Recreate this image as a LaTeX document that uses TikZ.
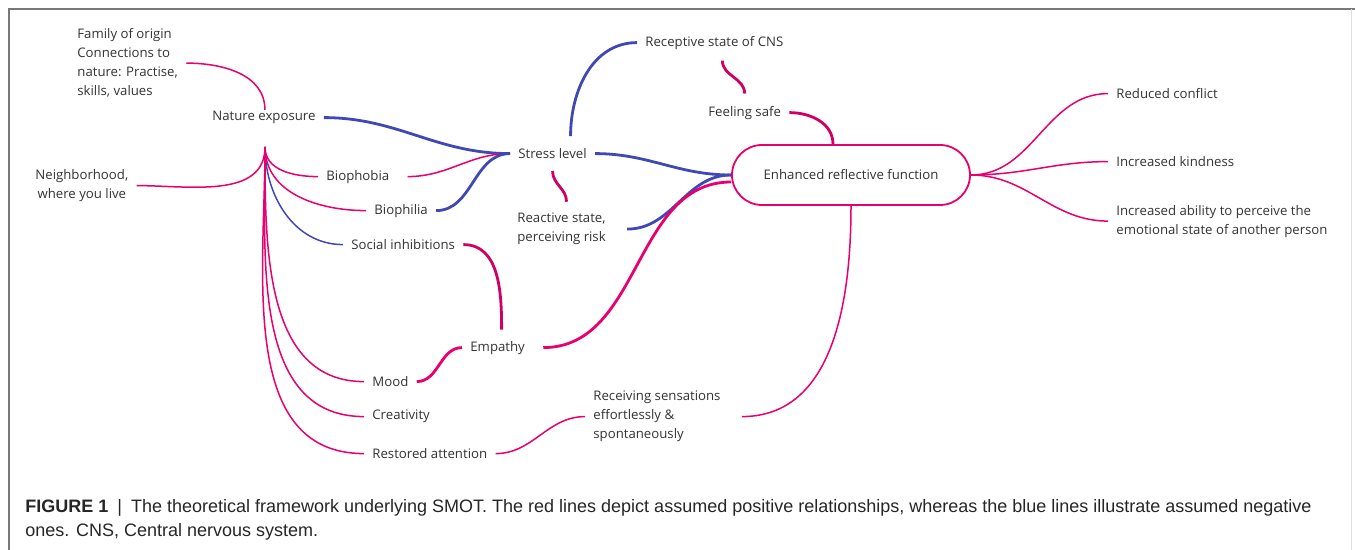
\documentclass[tikz,border=0pt]{standalone}
\usepackage{fontspec}
\setmainfont{Open Sans}
\newfontfamily\capfont{Liberation Sans}
\usetikzlibrary{calc}

\definecolor{posred}{RGB}{232,0,110}
\definecolor{posdark}{RGB}{208,0,98}
\definecolor{negblue}{RGB}{63,72,180}
\definecolor{frame}{RGB}{120,120,120}

\tikzset{
  lbl/.style={font=\fontsize{6.6}{9.5}\selectfont, text=black!80, inner xsep=4pt, inner ysep=2pt, anchor=west, yshift=-0.8pt},
  posline/.style={posred, line width=0.75pt},
  posthick/.style={posred, line width=1.4pt},
  posdk/.style={posdark, line width=1.4pt},
  negline/.style={negblue, line width=0.75pt},
  negthick/.style={negblue, line width=1.4pt},
  pill/.style={draw=posred, line width=0.9pt, rounded corners=15pt, minimum width=119pt, minimum height=30pt, font=\fontsize{6.6}{9.5}\selectfont, text=black!80}
}

\begin{document}
\begin{tikzpicture}[x=0.5pt,y=-0.5pt]
\useasboundingbox (0,0) rectangle (1355,550);
% Frame
\draw[frame,line width=0.6pt] (9,550)--(9,9)--(1355,9);
\draw[black!12,line width=0.5pt] (1351,9)--(1351,550);
% Nodes (left side)
\node[lbl,align=left] (fam) at (69,61.5) {Family of origin\\Connections to\\nature: Practise,\\skills, values};
\node[lbl] (nat) at (204,116) {Nature exposure};
\coordinate (hub) at (265,147);
\node[lbl,align=center] (nbh) at (27,184) {Neighborhood,\\where you live};
\node[lbl] (bphob) at (318,175) {Biophobia};
\node[lbl] (bphil) at (366,209) {Biophilia};
\node[lbl] (soc) at (343,243) {Social inhibitions};
\node[lbl] (mood) at (364,380) {Mood};
\node[lbl] (crea) at (364,415) {Creativity};
\node[lbl] (rest) at (364,452) {Restored attention};
\node[lbl] (emp) at (462,346) {Empathy};
% Nodes (middle)
\node[lbl] (stress) at (510,152) {Stress level};
\node[lbl,align=left] (react) at (509,227.5) {Reactive state,\\perceiving risk};
\node[lbl] (recep) at (637,41) {Receptive state of CNS};
\node[lbl] (safe) at (700,111) {Feeling safe};
\node[pill] (erf) at (851,175) {Enhanced reflective function};
\node[lbl,align=left] (recv) at (585,415) {Receiving sensations\\effortlessly \&\\spontaneously};
% Nodes (right side)
\node[lbl] (redc) at (1108,92) {Reduced conflict};
\node[lbl] (kind) at (1108,160) {Increased kindness};
\node[lbl,align=left] (abil) at (1108,219.5) {Increased ability to perceive the\\emotional state of another person};
% Lines into nature exposure
\draw[posline] (fam.east) to[out=0,in=90] ($(nat.north)+(1,3)$);
\draw[posline] (hub) to[out=-90,in=0] (nbh.east);
\draw[posline] (hub) to[out=-90,in=180] (bphob.west);
\draw[posline] (hub) to[out=-90,in=180] (bphil.west);
\draw[negline] (hub) to[out=-90,in=180] (soc.west);
\draw[posline] (hub) to[out=-90,in=180] (mood.west);
\draw[posline] (hub) to[out=-90,in=180] (crea.west);
\draw[posline] (hub) to[out=-90,in=180] (rest.west);
% Lines into stress level
\draw[negthick] (nat.east) to[out=0,in=180] (stress.west);
\draw[posline] ($(bphob.east)+(10,0)$) to[out=0,in=180] (stress.west);
\draw[negthick] (bphil.east) to[out=0,in=180] (stress.west);
\draw[negthick] ($(stress.north)+(18,-8)$) to[out=90,in=180] (recep.west);
\draw[posdk] ($(stress.south)+(0,8)$) to[out=-90,in=90] ($(react.north)+(5,-7)$);
\draw[posdk] ($(recep.south)+(8,7)$) to[out=-90,in=90] ($(safe.north)+(0,-8)$);
% Lines into enhanced reflective function
\draw[posdk] (safe.east) to[out=0,in=90] ($(erf.north)+(-18,0)$);
\draw[negthick] (stress.east) to[out=0,in=180] (erf.west);
\draw[negthick] ($(react.east)+(13,0)$) to[out=0,in=180] (erf.west);
\draw[posdk] (soc.east) to[out=0,in=90] ($(emp.north)+(4,-7)$);
\draw[posthick] (mood.east) to[out=0,in=180] (emp.west);
\draw[posthick] ($(emp.east)+(10,0)$) to[out=0,in=180] ($(erf.west)+(0,7)$);
\draw[posline] (rest.east) to[out=0,in=180] (recv.west);
\draw[posline] ($(recv.east)+(13,0)$) to[out=0,in=-90] (erf.south);
% Outcomes
\draw[posline] (erf.east) to[out=0,in=180] (redc.west);
\draw[posline] (erf.east) to[out=0,in=180] (kind.west);
\draw[posline] (erf.east) to[out=0,in=180] (abil.west);
% Caption
\node[anchor=base west,align=left,inner sep=0pt,font=\capfont\fontsize{9}{12}\selectfont,text=black!85] (cap) at (25,537)
  {\textbf{FIGURE 1}\enspace|\enspace The theoretical framework underlying SMOT. The red lines depict assumed positive relationships, whereas the blue lines illustrate assumed negative\\ones. CNS, Central nervous system.};
\end{tikzpicture}
\end{document}
